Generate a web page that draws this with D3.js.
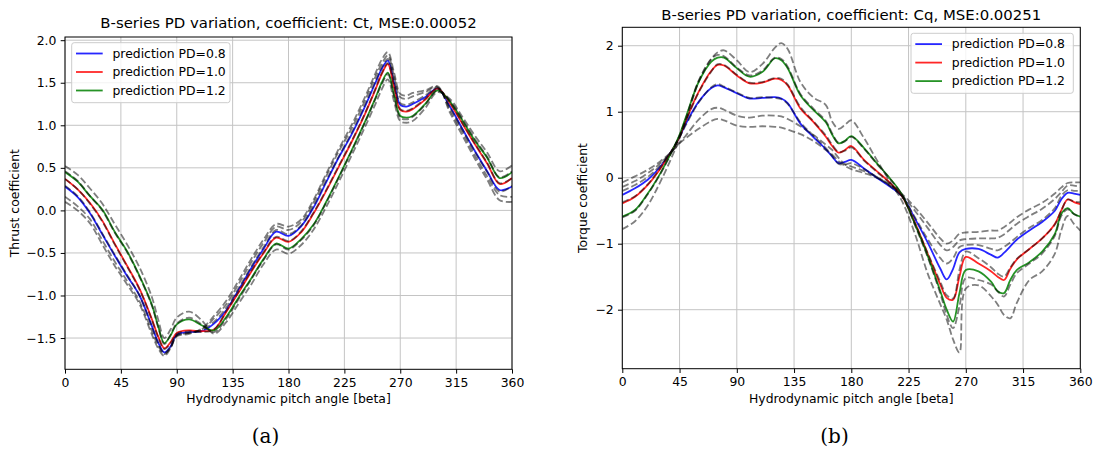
<!DOCTYPE html>
<html>
<head>
<meta charset="utf-8">
<script src="https://cdn.jsdelivr.net/npm/d3@7"></script>
<style>
  body { margin: 0; background: #fff; }
  svg { font-family: "DejaVu Sans", sans-serif; }
</style>
</head>
<body>
<div id="chart"></div>
<script>
// ---- (a) thrust coefficient Ct ----
const anglesCt = [0,10,20,30,40,50,60,70,75,80,85,90,100,110,120,130,140,150,160,170,180,190,200,210,220,230,240,250,255,260,265,270,275,280,290,300,310,320,330,340,350,360];
const ctPred08 = [0.28,0.16,-0.03,-0.28,-0.53,-0.77,-1.00,-1.36,-1.55,-1.67,-1.60,-1.46,-1.43,-1.42,-1.33,-1.17,-0.93,-0.68,-0.45,-0.25,-0.30,-0.19,0.03,0.32,0.61,0.87,1.17,1.50,1.66,1.76,1.50,1.24,1.22,1.25,1.33,1.43,1.22,0.96,0.70,0.46,0.24,0.28];
const ctPred10 = [0.37,0.25,0.09,-0.12,-0.39,-0.65,-0.92,-1.28,-1.48,-1.62,-1.55,-1.44,-1.41,-1.42,-1.40,-1.19,-0.96,-0.72,-0.50,-0.32,-0.37,-0.26,-0.04,0.22,0.50,0.78,1.08,1.42,1.60,1.72,1.45,1.18,1.16,1.19,1.30,1.43,1.26,1.02,0.78,0.55,0.31,0.38];
const ctPred12 = [0.45,0.34,0.17,0.01,-0.25,-0.48,-0.77,-1.11,-1.36,-1.56,-1.47,-1.34,-1.28,-1.35,-1.41,-1.25,-1.02,-0.80,-0.57,-0.39,-0.45,-0.34,-0.17,0.09,0.38,0.68,0.99,1.32,1.50,1.62,1.36,1.11,1.09,1.11,1.25,1.41,1.28,1.06,0.82,0.62,0.38,0.45];
// dashed reference curves (not in the legend)
const ctRef1 = [0.10,0.00,-0.15,-0.40,-0.65,-0.87,-1.10,-1.46,-1.62,-1.71,-1.62,-1.48,-1.45,-1.39,-1.24,-1.06,-0.82,-0.57,-0.34,-0.16,-0.19,-0.11,0.12,0.42,0.71,0.98,1.28,1.61,1.77,1.86,1.62,1.37,1.35,1.38,1.41,1.46,1.15,0.88,0.61,0.36,0.12,0.10];
const ctRef2 = [0.16,0.05,-0.10,-0.35,-0.60,-0.83,-1.07,-1.42,-1.59,-1.69,-1.61,-1.47,-1.44,-1.40,-1.27,-1.10,-0.86,-0.61,-0.38,-0.19,-0.23,-0.14,0.09,0.39,0.68,0.94,1.24,1.57,1.72,1.82,1.58,1.33,1.31,1.34,1.39,1.45,1.18,0.92,0.65,0.40,0.18,0.16];
const ctRef3 = [0.29,0.17,-0.02,-0.27,-0.52,-0.76,-1.00,-1.37,-1.56,-1.68,-1.61,-1.47,-1.44,-1.41,-1.31,-1.14,-0.91,-0.66,-0.43,-0.23,-0.28,-0.18,0.05,0.34,0.62,0.89,1.19,1.52,1.68,1.78,1.53,1.26,1.24,1.27,1.35,1.44,1.21,0.95,0.69,0.45,0.22,0.29];
const ctRef4 = [0.37,0.25,0.08,-0.13,-0.40,-0.66,-0.93,-1.29,-1.49,-1.63,-1.56,-1.45,-1.42,-1.43,-1.40,-1.18,-0.95,-0.71,-0.49,-0.31,-0.36,-0.25,-0.03,0.23,0.51,0.79,1.09,1.43,1.61,1.73,1.46,1.19,1.17,1.20,1.31,1.43,1.27,1.03,0.79,0.56,0.32,0.38];
const ctRef5 = [0.46,0.35,0.17,0.00,-0.26,-0.49,-0.78,-1.12,-1.37,-1.57,-1.46,-1.33,-1.26,-1.34,-1.43,-1.27,-1.04,-0.81,-0.58,-0.40,-0.46,-0.35,-0.18,0.08,0.37,0.67,0.98,1.31,1.48,1.60,1.34,1.09,1.07,1.10,1.24,1.41,1.29,1.07,0.84,0.63,0.39,0.46];
const ctRef6 = [0.52,0.42,0.26,0.08,-0.16,-0.40,-0.67,-1.02,-1.28,-1.50,-1.40,-1.26,-1.19,-1.29,-1.45,-1.31,-1.09,-0.87,-0.63,-0.46,-0.51,-0.41,-0.23,0.03,0.32,0.62,0.93,1.25,1.42,1.54,1.28,1.05,1.03,1.05,1.20,1.39,1.31,1.10,0.88,0.68,0.46,0.53];

// ---- (b) torque coefficient Cq ----
const anglesCq = [0,10,20,30,40,45,50,60,70,75,80,90,100,110,120,125,130,140,150,160,165,170,175,180,190,200,210,220,230,240,250,255,260,265,270,280,290,295,300,305,310,320,330,340,345,350,355,360];
const cqPred08 = [-0.26,-0.16,-0.03,0.17,0.44,0.62,0.82,1.15,1.36,1.40,1.37,1.28,1.20,1.21,1.22,1.20,1.13,0.82,0.62,0.43,0.32,0.22,0.24,0.27,0.14,0.00,-0.13,-0.28,-0.62,-0.98,-1.38,-1.54,-1.38,-1.13,-1.08,-1.08,-1.17,-1.21,-1.14,-1.04,-0.94,-0.80,-0.67,-0.50,-0.33,-0.23,-0.24,-0.26];
const cqPred10 = [-0.39,-0.29,-0.11,0.14,0.44,0.62,0.87,1.30,1.62,1.71,1.70,1.55,1.43,1.44,1.50,1.48,1.40,1.05,0.85,0.62,0.48,0.38,0.42,0.48,0.27,0.10,-0.07,-0.28,-0.68,-1.15,-1.62,-1.82,-1.85,-1.50,-1.20,-1.30,-1.42,-1.50,-1.55,-1.38,-1.24,-1.08,-0.92,-0.70,-0.50,-0.33,-0.37,-0.40];
const cqPred12 = [-0.59,-0.49,-0.24,0.07,0.44,0.65,0.92,1.45,1.76,1.82,1.82,1.66,1.53,1.60,1.81,1.78,1.66,1.25,1.03,0.84,0.65,0.52,0.56,0.63,0.45,0.22,0.00,-0.26,-0.70,-1.18,-1.72,-2.00,-2.18,-1.75,-1.40,-1.42,-1.58,-1.72,-1.75,-1.55,-1.40,-1.28,-1.12,-0.85,-0.55,-0.46,-0.55,-0.59];
const cqRef1 = [-0.07,0.02,0.12,0.25,0.42,0.52,0.60,0.74,0.86,0.89,0.87,0.79,0.77,0.78,0.77,0.76,0.73,0.66,0.56,0.42,0.35,0.25,0.18,0.13,0.07,0.00,-0.10,-0.25,-0.45,-0.68,-0.92,-1.00,-0.95,-0.85,-0.83,-0.82,-0.80,-0.80,-0.75,-0.68,-0.60,-0.48,-0.38,-0.24,-0.15,-0.08,-0.07,-0.07];
const cqRef2 = [-0.14,-0.05,0.07,0.22,0.42,0.53,0.64,0.88,1.04,1.06,1.03,0.94,0.91,0.94,0.94,0.93,0.89,0.78,0.65,0.50,0.42,0.30,0.20,0.17,0.10,0.01,-0.11,-0.27,-0.50,-0.76,-1.02,-1.10,-1.05,-0.95,-0.93,-0.92,-0.92,-0.91,-0.86,-0.78,-0.70,-0.58,-0.47,-0.32,-0.22,-0.12,-0.12,-0.14];
const cqRef3 = [-0.20,-0.11,0.01,0.19,0.44,0.61,0.80,1.14,1.37,1.42,1.38,1.29,1.21,1.22,1.21,1.19,1.12,0.84,0.64,0.45,0.33,0.21,0.20,0.22,0.13,0.01,-0.12,-0.29,-0.60,-0.93,-1.22,-1.30,-1.22,-1.05,-1.02,-1.02,-1.08,-1.10,-1.05,-0.98,-0.90,-0.76,-0.64,-0.46,-0.28,-0.19,-0.20,-0.20];
const cqRef4 = [-0.37,-0.28,-0.10,0.15,0.45,0.62,0.86,1.29,1.61,1.72,1.71,1.56,1.44,1.45,1.51,1.50,1.41,1.07,0.86,0.64,0.50,0.39,0.41,0.46,0.26,0.09,-0.08,-0.29,-0.69,-1.14,-1.58,-1.78,-1.83,-1.40,-1.12,-1.22,-1.36,-1.45,-1.50,-1.36,-1.23,-1.08,-0.92,-0.71,-0.50,-0.33,-0.36,-0.37];
const cqRef5 = [-0.60,-0.50,-0.25,0.06,0.43,0.64,0.90,1.47,1.80,1.86,1.84,1.67,1.55,1.62,1.82,1.80,1.68,1.27,1.05,0.86,0.67,0.53,0.55,0.62,0.44,0.21,-0.01,-0.27,-0.72,-1.20,-1.76,-2.08,-2.28,-1.95,-1.52,-1.55,-1.62,-1.72,-1.80,-1.62,-1.45,-1.30,-1.15,-0.88,-0.58,-0.48,-0.55,-0.60];
const cqRef6 = [-0.78,-0.66,-0.42,-0.06,0.36,0.60,0.86,1.45,1.80,1.90,1.93,1.78,1.60,1.72,1.97,2.04,1.95,1.45,1.22,1.10,0.85,0.74,0.80,0.87,0.60,0.27,-0.05,-0.36,-0.85,-1.45,-1.92,-2.15,-2.45,-2.65,-1.68,-1.63,-1.80,-1.92,-2.08,-2.13,-1.90,-1.55,-1.42,-1.15,-0.80,-0.58,-0.70,-0.80];

const xTicks = [0,45,90,135,180,225,270,315,360];
const legendLabels = ["prediction PD=0.8","prediction PD=1.0","prediction PD=1.2"];
const predColors = ["#0000ff","#ff0000","#008000"];

const svg = d3.select("#chart").append("svg")
  .attr("width", 1095)
  .attr("height", 453);

function drawPanel(c) {
  const x = d3.scaleLinear().domain([0, 360]).range([c.x0, c.x1]);
  const y = d3.scaleLinear().domain(c.yDomain).range([c.y1, c.y0]);
  const g = svg.append("g");

  g.append("clipPath").attr("id", "clip-" + c.id)
    .append("rect")
    .attr("x", c.x0).attr("y", c.y0)
    .attr("width", c.x1 - c.x0).attr("height", c.y1 - c.y0);

  // grid
  g.append("g").selectAll("line").data(xTicks).join("line")
    .attr("x1", d => x(d)).attr("x2", d => x(d))
    .attr("y1", c.y0).attr("y2", c.y1)
    .attr("stroke", "#c4c4c4").attr("stroke-width", 1);
  g.append("g").selectAll("line").data(c.yTicks).join("line")
    .attr("x1", c.x0).attr("x2", c.x1)
    .attr("y1", d => y(d)).attr("y2", d => y(d))
    .attr("stroke", "#c4c4c4").attr("stroke-width", 1);

  const line = d3.line()
    .x(d => x(d[0]))
    .y(d => y(d[1]))
    .curve(d3.curveCatmullRom.alpha(0.5));

  const plot = g.append("g").attr("clip-path", `url(#clip-${c.id})`);

  // predictions
  plot.selectAll("path.pred")
    .data(c.preds)
    .join("path")
    .attr("class", "pred")
    .attr("d", v => line(d3.zip(c.angles, v)))
    .attr("fill", "none")
    .attr("stroke", (v, i) => predColors[i])
    .attr("stroke-opacity", 0.85)
    .attr("stroke-width", 1.8);

  // dashed references on top
  plot.selectAll("path.ref")
    .data(c.refs)
    .join("path")
    .attr("class", "ref")
    .attr("d", v => line(d3.zip(c.angles, v)))
    .attr("fill", "none")
    .attr("stroke", "#000")
    .attr("stroke-opacity", 0.5)
    .attr("stroke-width", 1.8)
    .attr("stroke-dasharray", "6.9,3");

  // axes
  const xAxis = g.append("g")
    .attr("transform", `translate(0,${c.y1})`)
    .call(d3.axisBottom(x).tickValues(xTicks).tickSizeInner(4.3).tickSizeOuter(0).tickPadding(4.3));
  const yAxis = g.append("g")
    .attr("transform", `translate(${c.x0},0)`)
    .call(d3.axisLeft(y).tickValues(c.yTicks).tickFormat(c.fmt).tickSizeInner(4.3).tickSizeOuter(0).tickPadding(4.3));
  [xAxis, yAxis].forEach(a => {
    a.select(".domain").remove();
    a.selectAll("line").attr("stroke", "#000").attr("stroke-width", 1);
    a.selectAll("text")
      .attr("fill", "#000")
      .style("font-size", "12.4px")
      .style("font-family", "DejaVu Sans");
  });

  // frame
  g.append("rect")
    .attr("x", c.x0).attr("y", c.y0)
    .attr("width", c.x1 - c.x0).attr("height", c.y1 - c.y0)
    .attr("fill", "none").attr("stroke", "#000").attr("stroke-width", 1);

  // title & labels
  g.append("text")
    .attr("x", (c.x0 + c.x1) / 2).attr("y", c.titleY)
    .attr("text-anchor", "middle")
    .style("font-size", "14.9px")
    .text(c.title);
  g.append("text")
    .attr("x", (c.x0 + c.x1) / 2).attr("y", 403)
    .attr("text-anchor", "middle")
    .style("font-size", "12.4px")
    .text("Hydrodynamic pitch angle [beta]");
  g.append("text")
    .attr("transform", `translate(${c.yLabelX},${(c.y0 + c.y1) / 2}) rotate(-90)`)
    .attr("text-anchor", "middle")
    .style("font-size", "12.4px")
    .text(c.yLabel);

  // legend
  const lg = g.append("g").attr("transform", `translate(${c.legend[0]},${c.legend[1]})`);
  lg.append("rect")
    .attr("width", c.legend[2]).attr("height", 60)
    .attr("rx", 2.5)
    .attr("fill", "#fff").attr("fill-opacity", 0.8)
    .attr("stroke", "#cccccc").attr("stroke-width", 1);
  const items = lg.selectAll("g.item").data(legendLabels).join("g")
    .attr("class", "item")
    .attr("transform", (d, i) => `translate(0,${10.8 + i * 18.5})`);
  items.append("line")
    .attr("x1", 4.3).attr("x2", 31)
    .attr("stroke", (d, i) => predColors[i])
    .attr("stroke-opacity", 0.85)
    .attr("stroke-width", 1.8);
  items.append("text")
    .attr("x", 40.8).attr("dy", "0.35em")
    .style("font-size", "12.4px")
    .text(d => d);

  // caption
  svg.append("text")
    .attr("x", c.captionX).attr("y", 443)
    .attr("text-anchor", "middle")
    .style("font-family", "DejaVu Serif")
    .style("font-size", "20px")
    .text(c.caption);
}

drawPanel({
  id: "ct",
  x0: 65, x1: 512, y0: 37, y1: 369.3,
  yDomain: [-1.8674, 2.0376],
  yTicks: [-1.5, -1, -0.5, 0, 0.5, 1, 1.5, 2],
  fmt: d3.format(".1f"),
  angles: anglesCt,
  preds: [ctPred08, ctPred10, ctPred12],
  refs: [ctRef1, ctRef2, ctRef3, ctRef4, ctRef5, ctRef6],
  title: "B-series PD variation, coefficient: Ct, MSE:0.00052",
  titleY: 28.3,
  yLabel: "Thrust coefficient",
  yLabelX: 19,
  legend: [71.7, 42.7, 158.3],
  caption: "(a)",
  captionX: 265.5
});

drawPanel({
  id: "cq",
  x0: 622.3, x1: 1080.3, y0: 27.3, y1: 368.7,
  yDomain: [-2.894, 2.279],
  yTicks: [-2, -1, 0, 1, 2],
  fmt: d3.format("d"),
  angles: anglesCq,
  preds: [cqPred08, cqPred10, cqPred12],
  refs: [cqRef1, cqRef2, cqRef3, cqRef4, cqRef5, cqRef6],
  title: "B-series PD variation, coefficient: Cq, MSE:0.00251",
  titleY: 20,
  yLabel: "Torque coefficient",
  yLabelX: 587,
  legend: [911, 33.3, 162.3],
  caption: "(b)",
  captionX: 834.5
});
</script>
</body>
</html>
